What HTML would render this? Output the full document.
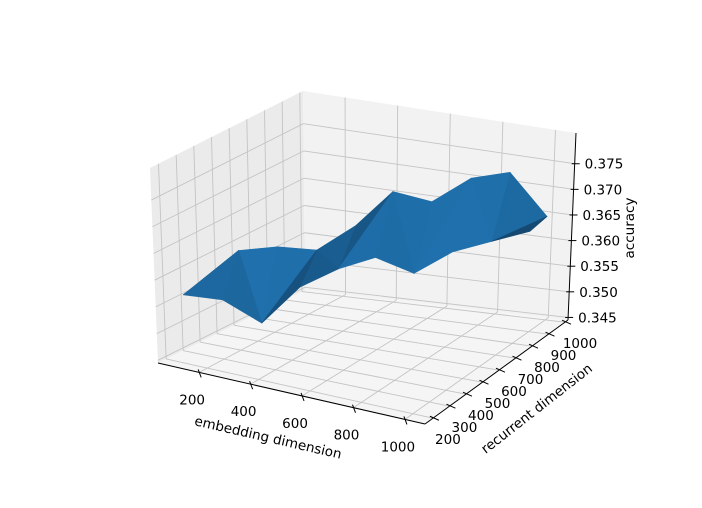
<!DOCTYPE html>
<html><head><meta charset="utf-8">
<style>
html,body{margin:0;padding:0;background:#fff;}
svg{display:block;font-family:"DejaVu Sans","Liberation Sans",sans-serif;}
</style></head>
<body>
<svg id="chart" width="702" height="508" viewBox="0 0 702 508" xmlns="http://www.w3.org/2000/svg">
<g id="panes"></g>
<g id="grid"></g>
<g id="surface"></g>
<g id="axes"></g>
</svg>
<script>
// ---- data ----
const embedding = [150, 240, 330, 420, 510, 600, 690, 780, 870, 960];
const recurrentCenter = [200, 290, 380, 470, 560, 640, 730, 820, 910, 1000];
const accFront = [0.3585, 0.357, 0.352, 0.358, 0.3606, 0.362, 0.358, 0.361, 0.3618, 0.3625];
const accBack  = [0.3590, 0.3645, 0.3645, 0.3631, 0.3668, 0.3725, 0.3696, 0.373, 0.373, 0.3632];
const xTicks = [200, 400, 600, 800, 1000];
const yTicks = [200, 300, 400, 500, 600, 700, 800, 900, 1000];
const zTicks = [0.345, 0.350, 0.355, 0.360, 0.365, 0.370, 0.375];
const zTickLabels = ["0.345","0.350","0.355","0.360","0.365","0.370","0.375"];

// ---- axis functions ----
const E0=40,E1=1078,R0=152,R1=1018,Z0=0.3445,Z1=0.381;
const F={A:[158,363],B:[425,424],C:[568,320],D:[305,290]};
const T={A:[150,168],B:[427,228],C:[576,133],D:[303,91]};
function bil(P,u,v){return [P.A[0]*(1-u)*(1-v)+P.B[0]*u*(1-v)+P.C[0]*u*v+P.D[0]*(1-u)*v,
 P.A[1]*(1-u)*(1-v)+P.B[1]*u*(1-v)+P.C[1]*u*v+P.D[1]*(1-u)*v];}
function projUVW(u,v,w){const f=bil(F,u,v),t=bil(T,u,v);return [f[0]+w*(t[0]-f[0]),f[1]+w*(t[1]-f[1])];}
const xs=e=>(e-E0)/(E1-E0), ys=r=>(r-R0)/(R1-R0), zs=z=>(z-Z0)/(Z1-Z0);
function proj(e,r,z){return projUVW(xs(e),ys(r),zs(z));}
const NS="http://www.w3.org/2000/svg";
function mk(tag,attrs,parent){const el=document.createElementNS(NS,tag);for(const k in attrs)el.setAttribute(k,attrs[k]);parent.appendChild(el);return el;}
function pts(a){return a.map(p=>p[0].toFixed(1)+","+p[1].toFixed(1)).join(" ");}

// panes
const panes=document.getElementById('panes');
let p=mk('polygon',{points:pts([projUVW(0,0,0),projUVW(0,1,0),projUVW(0,1,1),projUVW(0,0,1)]),fill:'#ebebeb'},panes);


p=mk('polygon',{points:pts([projUVW(0,1,0),projUVW(1,1,0),projUVW(1,1,1),projUVW(0,1,1)]),fill:'#f2f2f2'},panes);


p=mk('polygon',{points:pts([projUVW(0,0,0),projUVW(1,0,0),projUVW(1,1,0),projUVW(0,1,0)]),fill:'#f5f5f5'},panes);



// gridlines
const grid=document.getElementById('grid');
function gl(a,b,name){const l=mk('line',{x1:a[0],y1:a[1],x2:b[0],y2:b[1],stroke:'#c4c4c4','stroke-width':0.9},grid);

}
xTicks.forEach(e=>{const u=xs(e);gl(projUVW(u,0,0),projUVW(u,1,0),'floor-grid-x');gl(projUVW(u,1,0),projUVW(u,1,1),'back-grid-x');});
yTicks.forEach(r=>{const v=ys(r);gl(projUVW(0,v,0),projUVW(1,v,0),'floor-grid-y');gl(projUVW(0,v,0),projUVW(0,v,1),'left-grid-y');});
zTicks.forEach(z=>{const w=zs(z);gl(projUVW(0,0,w),projUVW(0,1,w),'left-grid-z');gl(projUVW(0,1,w),projUVW(1,1,w),'back-grid-z');});

// surface
const surf=document.getElementById('surface');
const tris=[];
for(let k=0;k<embedding.length-1;k++){
  const f0=[embedding[k],recurrentCenter[k]-50,accFront[k]], b0=[embedding[k],recurrentCenter[k]+50,accBack[k]];
  const f1=[embedding[k+1],recurrentCenter[k+1]-50,accFront[k+1]], b1=[embedding[k+1],recurrentCenter[k+1]+50,accBack[k+1]];
  if(k%2===0){tris.push([f0,b0,b1]);tris.push([f0,b1,f1]);}
  else{tris.push([f0,b0,f1]);tris.push([b0,b1,f1]);}
}
function norm3(t){const P=t.map(q=>[xs(q[0]),ys(q[1]),zs(q[2])*0.3]);
 const a=[P[1][0]-P[0][0],P[1][1]-P[0][1],P[1][2]-P[0][2]],b=[P[2][0]-P[0][0],P[2][1]-P[0][1],P[2][2]-P[0][2]];
 let n=[a[1]*b[2]-a[2]*b[1],a[2]*b[0]-a[0]*b[2],a[0]*b[1]-a[1]*b[0]];const L=Math.hypot(...n)||1;n=n.map(x=>x/L);if(n[2]<0)n=n.map(x=>-x);return n;}
const depth=t=>t.reduce((s,q)=>s-0.5*xs(q[0])+0.866*ys(q[1]),0);
tris.sort((a,b)=>depth(b)-depth(a));
const shadeVals=tris.map(t=>{const n=norm3(t);return n[0]*0.5-n[1]*0.866+0.3*n[2];});
const sMin=Math.min(...shadeVals),sMax=Math.max(...shadeVals);
tris.forEach((t,i)=>{let d=Math.pow((shadeVals[i]-sMin)/((sMax-sMin)||1),1.6);
 const c0=[19,66,104],c1=[31,112,172];const c=c0.map((x,j)=>Math.round(x+(c1[j]-x)*d));
 const col='rgb('+c.join(',')+')';
 const poly=mk('polygon',{points:pts(t.map(q=>proj(q[0],q[1],q[2]))),fill:col,stroke:col,'stroke-width':0.6,'stroke-linejoin':'round'},surf);
 
 });

// axes
const axes=document.getElementById('axes');
function al(a,b,name,w){const l=mk('line',{x1:a[0],y1:a[1],x2:b[0],y2:b[1],stroke:'#000','stroke-width':w||1},axes);

}
function tx(x,y,s,name,anchor,rot){const t=mk('text',{x:x,y:y,'font-size':13.5,fill:'#000','text-anchor':anchor||'middle','dominant-baseline':'central'},axes);
 if(rot)t.setAttribute('transform','rotate('+rot+' '+x+' '+y+')');t.textContent=s;
 
 }
al(projUVW(0,0,0),projUVW(1,0,0),'x-axis-line');
al(projUVW(1,0,0),projUVW(1,1,0),'y-axis-line');
al(projUVW(1,1,0),projUVW(1,1,1),'z-axis-line');
xTicks.forEach(e=>{const a=proj(e,R0,Z0);al([a[0]-1,a[1]-3],[a[0]+2,a[1]+5],'x-tick');tx(a[0]-7,a[1]+28,String(e),'x-tick-label');});
yTicks.forEach(r=>{const a=proj(E1,r,Z0);al([a[0]-3,a[1]-2],[a[0]+6,a[1]+2],'y-tick');tx(a[0]+15,a[1]+22,String(r),'y-tick-label');});
zTicks.forEach((z,i)=>{const a=proj(E1,R1,z);al([a[0]-3,a[1]],[a[0]+5,a[1]],'z-tick');tx(a[0]+10,a[1]+1,zTickLabels[i],'z-tick-label','start');});
tx(268,438,'embedding dimension','x-axis-title','middle',13);
tx(537,409,'recurrent dimension','y-axis-title','middle',-38);
tx(630,228,'accuracy','z-axis-title','middle',-90);
</script>
</body></html>
